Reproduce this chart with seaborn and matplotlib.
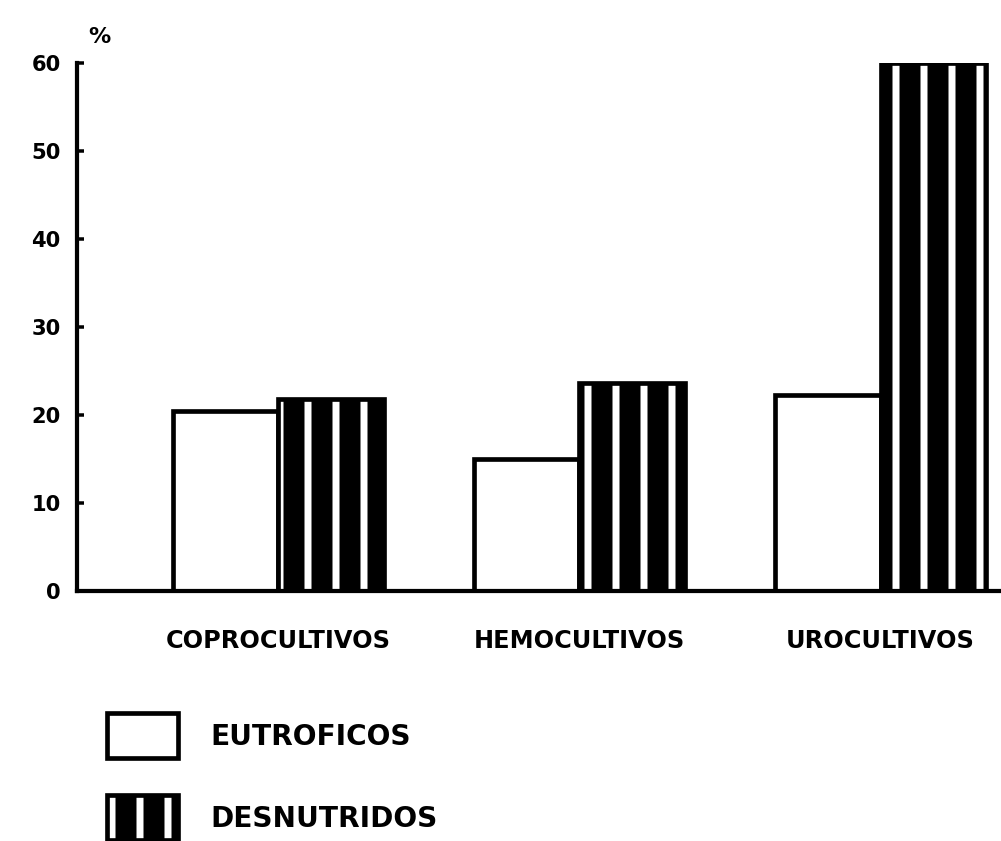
import matplotlib
matplotlib.use("Agg")
import matplotlib.pyplot as plt
import matplotlib.patches as mpatches
import seaborn as sns
import pandas as pd

categories = ["COPROCULTIVOS", "HEMOCULTIVOS", "UROCULTIVOS"]
groups = ["EUTROFICOS", "DESNUTRIDOS"]
eutroficos = [20.5, 15.0, 22.3]
desnutridos = [21.8, 23.6, 60.0]
yticks = [0, 10, 20, 30, 40, 50, 60]

df = pd.DataFrame({
    "cat": categories * 2,
    "grupo": [groups[0]] * 3 + [groups[1]] * 3,
    "pct": eutroficos + desnutridos,
})

sns.set_theme(style="white")
plt.rcParams["font.family"] = ["DejaVu Sans"]
plt.rcParams["text.color"] = "black"
plt.rcParams["xtick.color"] = "black"
plt.rcParams["ytick.color"] = "black"
plt.rcParams["hatch.linewidth"] = 9.0
plt.rcParams["hatch.color"] = "black"

DPI = 168
fig = plt.figure(figsize=(1001 / DPI, 841 / DPI), dpi=DPI)
ax = fig.add_axes([0.077, 0.297, 0.923, 0.628])

sns.barplot(data=df, x="cat", y="pct", hue="grupo", order=categories,
            hue_order=groups, palette=["white", "white"], width=0.7,
            edgecolor="black", linewidth=2.0, saturation=1, ax=ax,
            legend=False)

for bar in ax.containers[1]:
    bar.set_hatch("|")

ax.set_ylim(0, 60)
ax.set_xlim(-0.668, 2.40)
ax.set_yticks(yticks)
ax.set_yticklabels([str(v) for v in yticks], fontweight="bold", fontsize=9,
                   color="black")
ax.set_xticklabels(categories, fontweight="bold", fontsize=10.3, color="black")
ax.tick_params(axis="y", direction="in", length=3, width=1.5, left=True, pad=7)
ax.tick_params(axis="x", length=0, pad=16)
ax.set_xlabel("")
ax.set_ylabel("")
for s in ["top", "right"]:
    ax.spines[s].set_visible(False)
for s in ["left", "bottom"]:
    ax.spines[s].set_linewidth(1.8)
    ax.spines[s].set_color("black")

ax.text(0.012, 1.05, "%", transform=ax.transAxes, fontsize=9.5,
        fontweight="bold", ha="left", va="center", color="black")

h1 = mpatches.Patch(facecolor="white", edgecolor="black", linewidth=2.0,
                    label=groups[0])
h2 = mpatches.Patch(facecolor="white", edgecolor="black", linewidth=2.0,
                    hatch="|", label=groups[1])
leg = fig.legend(handles=[h1, h2], loc="upper left",
                 bbox_to_anchor=(0.107, 0.152), frameon=False,
                 prop={"weight": "bold", "size": 12},
                 handlelength=2.54, handleheight=2.1, labelspacing=1.32,
                 handletextpad=1.14, borderpad=0, borderaxespad=0)
for t in leg.get_texts():
    t.set_color("black")

fig.savefig("out.png", dpi=DPI)
